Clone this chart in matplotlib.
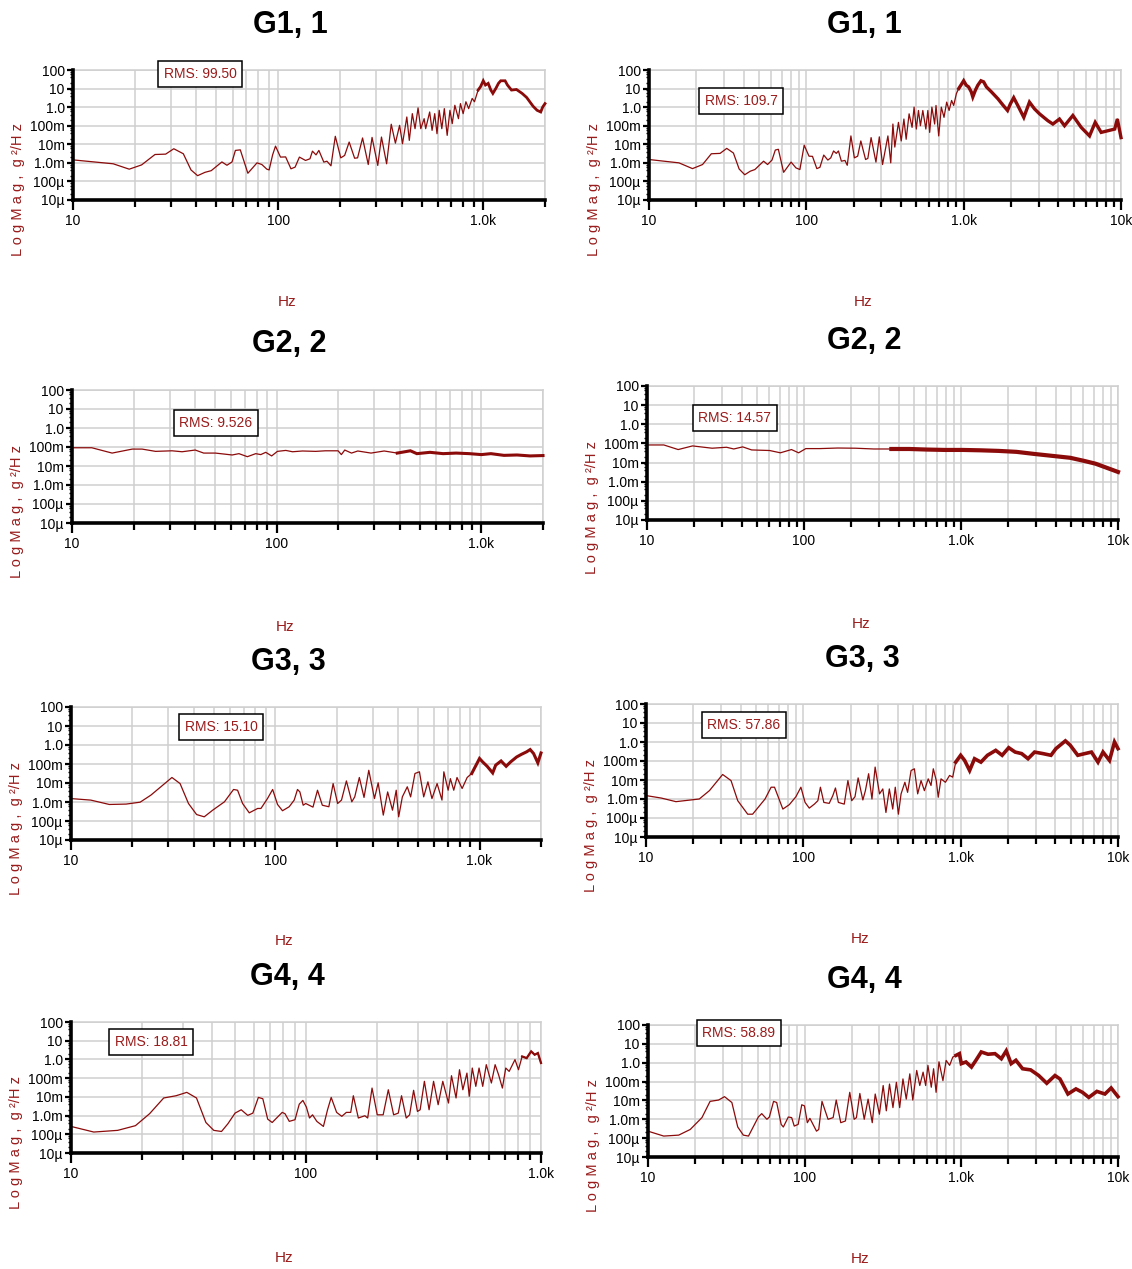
import numpy as np
import matplotlib
matplotlib.use("Agg")
import matplotlib.pyplot as plt
from matplotlib.ticker import FixedLocator, FixedFormatter, LogLocator, NullFormatter

plt.rcParams['font.family'] = ['Liberation Sans Narrow', 'Liberation Sans', 'DejaVu Sans']

W, H = 1132, 1269
LINE = '#8b0a0a'
LABEL = '#9a1c1c'
GRID = '#cfcfcf'

# --- data: (Hz, log10 of g^2/Hz) ---
g1a = [(10, -2.84), (15.7, -3.05), (18.8, -3.34), (21.6, -3.11), (25.1, -2.55), (28.3, -2.53),
       (31.0, -2.24), (34.5, -2.51), (37.6, -3.38), (40.5, -3.69), (44.0, -3.51), (47.2, -3.42),
       (53.2, -2.95), (56.3, -3.13), (59.6, -2.95), (61.9, -2.33), (65.4, -2.30), (71.2, -3.56),
       (78.9, -3.0), (83.3, -3.09), (88.1, -3.34), (90.4, -3.38), (94.0, -2.57), (97.1, -2.10),
       (102.7, -2.69), (108.8, -2.68), (115.5, -3.32), (121, -3.23), (127, -2.69), (136, -2.87),
       (143, -2.78), (147, -2.37), (153, -2.57), (158, -2.33), (167, -2.96), (173, -2.91),
       (181, -3.16), (190, -1.57), (202, -2.73), (211, -2.60), (222, -1.88), (236, -2.75),
       (244, -2.73), (258, -1.66), (275, -3.09), (287, -1.63), (306, -3.14), (319, -1.61),
       (338, -3.05), (356, -0.92), (373, -1.94), (391, -0.98), (404, -1.97), (424, -0.53),
       (436, -1.79), (451, -0.35), (465, -1.16), (481, -0.04), (496, -1.16), (515, -0.62),
       (524, -1.16), (548, -0.26), (563, -1.25), (580, -0.35), (595, -1.43), (610, -0.17),
       (628, -1.16), (646, -0.08), (667, -1.52), (688, -0.17), (706, -0.89), (727, 0.10),
       (757, -0.62), (774, 0.19), (798, -0.35), (823, 0.29), (849, -0.08), (883, 0.47),
       (906, 0.29), (944, 0.92), (970, 1.10), (1000, 1.42), (1025, 1.19), (1057, 1.28),
       (1089, 0.92), (1114, 0.74), (1152, 1.01), (1186, 1.28), (1217, 1.42), (1278, 1.42),
       (1312, 1.19), (1373, 0.92), (1452, 0.95), (1547, 0.74), (1628, 0.52), (1749, 0.05),
       (1830, -0.17), (1906, -0.26), (1950, 0.01), (2000, 0.19)]

g1b = [(10, -2.82), (15.5, -3.0), (18.9, -3.31), (21.9, -3.09), (24.9, -2.51), (28.3, -2.49),
       (31.2, -2.22), (34.4, -2.47), (37.4, -3.33), (40.6, -3.64), (44.0, -3.45), (47.1, -3.36),
       (53.5, -2.91), (56.7, -3.09), (60.5, -2.85), (63.5, -2.31), (66.4, -2.27), (71.7, -3.51),
       (80.0, -2.96), (85.9, -3.27), (91.0, -3.36), (96.9, -2.05), (104, -2.64), (109.4, -2.65),
       (116.6, -3.31), (122, -3.24), (129, -2.58), (137, -2.85), (143, -2.73), (149, -2.36),
       (155, -2.49), (160, -2.36), (167, -2.91), (176, -2.87), (182, -3.13), (192, -1.55),
       (202, -2.73), (212, -2.64), (222, -1.82), (238, -2.82), (246, -2.76), (258, -1.64),
       (277, -2.96), (291, -1.60), (305, -3.09), (330, -1.55), (344, -3.0), (355, -0.91),
       (365, -2.15), (385, -0.82), (401, -1.82), (417, -0.64), (431, -1.73), (450, -0.36),
       (470, -1.09), (484, 0.0), (500, -1.18), (516, -0.18), (531, -1.0), (550, -0.18),
       (575, -1.18), (592, -0.18), (608, -1.36), (628, 0.0), (654, -0.91), (667, 0.09),
       (694, -1.55), (721, 0.0), (750, -0.55), (780, 0.27), (808, -0.18), (838, 0.36),
       (864, 0.09), (899, 0.73), (930, 1.0), (960, 1.18), (1000, 1.42), (1038, 1.18),
       (1075, 1.09), (1118, 0.82), (1143, 0.55), (1187, 0.91), (1230, 1.18), (1288, 1.42),
       (1340, 1.36), (1395, 1.09), (1502, 0.82), (1651, 0.45), (1785, 0.09), (1900, -0.18),
       (1982, 0.18), (2080, 0.51), (2208, 0.09), (2411, -0.55), (2619, 0.27), (2818, -0.09),
       (3034, -0.36), (3428, -0.73), (3690, -0.91), (4064, -0.64), (4375, -1.0), (4943, -0.45),
       (5585, -1.09), (6310, -1.55), (6855, -0.82), (7482, -1.36), (8258, -1.27), (9120, -1.18),
       (9480, -0.64), (10000, -1.64)]

g2a = [(10, -1.04), (12.5, -1.04), (15.7, -1.32), (19.7, -1.11), (22.0, -1.11), (25.6, -1.23),
       (30.8, -1.20), (34.5, -1.25), (40.0, -1.16), (44, -1.32), (50.2, -1.32), (60.6, -1.42),
       (65.4, -1.35), (71.9, -1.51), (79, -1.35), (83.6, -1.40), (88.4, -1.28), (94.5, -1.47),
       (100.8, -1.23), (110.8, -1.18), (119.5, -1.25), (133.7, -1.21), (155, -1.23), (173, -1.20),
       (199.5, -1.20), (207, -1.40), (215, -1.16), (232, -1.32), (249, -1.21), (289, -1.32),
       (335, -1.21), (388, -1.32), (450, -1.20), (484, -1.35), (561, -1.28), (650, -1.35),
       (753, -1.32), (873, -1.35), (1000, -1.40), (1113, -1.35), (1289, -1.44), (1493, -1.42),
       (1730, -1.47), (2000, -1.45)]

g2b = [(10, -1.08), (12.8, -1.08), (15.8, -1.32), (19.5, -1.13), (26.0, -1.25), (32.1, -1.20),
       (35.7, -1.29), (40.7, -1.18), (46.4, -1.34), (60.4, -1.37), (70.7, -1.49), (83.2, -1.32),
       (92.4, -1.49), (102.7, -1.27), (126, -1.27), (164, -1.24), (213, -1.25), (278, -1.29),
       (360, -1.29), (469, -1.29), (607, -1.32), (790, -1.34), (1026, -1.34), (1335, -1.36),
       (1735, -1.39), (2256, -1.44), (2934, -1.55), (3815, -1.65), (4960, -1.75), (6140, -1.92),
       (7200, -2.06), (8460, -2.27), (10000, -2.49)]

g3a = [(10, -2.82), (12.5, -2.90), (15.4, -3.13), (18.6, -3.11), (21.8, -3.01), (24.6, -2.64),
       (28.1, -2.12), (31.2, -1.71), (34.2, -2.03), (37.6, -3.08), (41.2, -3.66), (44.9, -3.78),
       (49.4, -3.43), (56.4, -2.99), (59.6, -2.64), (62.5, -2.34), (65.4, -2.38), (69.2, -3.08),
       (74.6, -3.57), (82.0, -3.34), (85.1, -3.34), (91.6, -2.82), (97.1, -2.34), (102.6, -3.13),
       (108.5, -3.46), (117, -3.25), (123.8, -2.90), (128.5, -2.34), (132, -2.47), (137, -3.17),
       (141, -3.08), (153, -3.27), (161, -2.38), (170, -3.17), (183, -3.25), (192, -2.03),
       (202, -3.08), (211, -2.90), (223, -1.89), (237, -2.99), (245, -2.73), (258, -1.71),
       (272, -2.76), (287, -1.33), (306, -2.82), (319, -1.99), (338, -3.69), (355, -2.47),
       (375, -3.43), (391, -2.38), (402, -3.78), (419, -2.73), (443, -2.20), (460, -2.73),
       (483, -1.50), (508, -1.41), (533, -2.73), (559, -1.94), (585, -2.82), (620, -2.03),
       (655, -2.90), (669, -1.41), (702, -2.38), (720, -1.77), (748, -2.38), (776, -1.71),
       (822, -2.29), (870, -1.71), (916, -1.50), (962, -1.06), (1000, -0.71), (1036, -0.89),
       (1090, -1.12), (1160, -1.47), (1200, -1.06), (1275, -0.84), (1350, -1.12), (1420, -0.89),
       (1520, -0.63), (1605, -0.49), (1700, -0.36), (1770, -0.24), (1840, -0.45), (1930, -0.94),
       (2000, -0.42)]

g3b = [(10, -2.82), (12.5, -2.95), (15.5, -3.14), (21.8, -3.0), (25.3, -2.56), (30.7, -1.71),
       (34.7, -2.03), (38.3, -3.09), (44.3, -3.80), (47.6, -3.80), (57.1, -3.0), (62.4, -2.38),
       (65.6, -2.38), (74.1, -3.53), (81.4, -3.30), (89.7, -2.88), (96.5, -2.38), (102.6, -3.18),
       (109.1, -3.48), (117.5, -3.27), (123.7, -3.09), (128.4, -2.38), (135, -3.18), (146, -3.23),
       (154, -2.82), (160, -2.42), (167, -3.18), (182, -3.27), (192, -2.03), (203, -3.09),
       (213, -2.88), (223, -1.89), (239, -3.05), (248, -2.56), (260, -1.67), (273, -3.0),
       (286, -1.32), (305, -2.73), (320, -2.47), (335, -3.71), (352, -2.47), (370, -3.53),
       (384, -2.38), (402, -3.80), (418, -2.73), (442, -2.12), (460, -2.65), (484, -1.50),
       (508, -1.41), (533, -2.73), (560, -2.03), (588, -2.56), (622, -1.94), (648, -2.29),
       (670, -1.41), (700, -2.03), (720, -2.91), (750, -1.94), (800, -2.12), (850, -1.76),
       (890, -1.85), (930, -1.06), (1000, -0.70), (1060, -0.97), (1140, -1.50), (1225, -0.88),
       (1345, -1.06), (1480, -0.70), (1670, -0.44), (1835, -0.70), (2020, -0.30), (2220, -0.53),
       (2440, -0.61), (2680, -0.88), (2950, -0.53), (3330, -0.61), (3750, -0.70), (4030, -0.35),
       (4630, 0.06), (4970, -0.17), (5550, -0.70), (6160, -0.61), (6780, -0.53), (7460, -1.06),
       (8030, -0.53), (8830, -0.97), (9500, 0.0), (10000, -0.35)]

g4a = [(10, -3.58), (12.5, -3.88), (15.8, -3.79), (18.8, -3.54), (21.6, -2.90), (24.8, -2.06),
       (28.0, -1.94), (31.1, -1.76), (34.2, -2.06), (37.5, -3.37), (40.5, -3.79), (43.7, -3.85),
       (46.5, -3.44), (49.9, -2.87), (53.0, -2.69), (56.5, -2.99), (59.4, -2.87), (62.7, -2.03),
       (65.5, -2.10), (68.7, -3.19), (71.8, -3.37), (79.2, -2.83), (81.4, -2.90), (84.9, -3.31),
       (89.8, -3.22), (93.6, -2.39), (97, -2.19), (100.4, -2.55), (103.5, -3.13), (106.6, -2.96),
       (111.2, -3.31), (118.6, -3.58), (123.5, -2.69), (128, -2.03), (135, -2.83), (142, -3.04),
       (148.5, -2.83), (155, -2.83), (159, -1.94), (167, -3.13), (178, -3.01), (183, -3.13),
       (191, -1.53), (201, -2.96), (213, -2.96), (224, -1.62), (236, -2.96), (247, -2.87),
       (255, -1.94), (267, -3.13), (276, -2.96), (287, -1.65), (298, -2.78), (306, -2.69),
       (319, -1.17), (334, -2.69), (349, -1.17), (365, -2.42), (382, -1.17), (404, -2.33),
       (416, -0.87), (435, -2.06), (450, -0.55), (465, -1.62), (484, -0.73), (495, -1.97),
       (510, -0.46), (528, -1.44), (545, -0.46), (565, -1.44), (585, -0.28), (615, -1.26),
       (638, -0.28), (660, -0.82), (685, -1.53), (708, -0.46), (732, -0.64), (775, -0.01),
       (802, -0.55), (831, 0.16), (869, 0.07), (908, 0.43), (940, 0.25), (970, 0.34),
       (1000, -0.19)]

g4b = [(10, -3.63), (12.6, -3.89), (15.7, -3.84), (18.6, -3.54), (22.1, -2.91), (24.9, -2.05),
       (28.2, -1.98), (30.8, -1.80), (34.3, -2.11), (37.4, -3.41), (40.6, -3.84), (43.8, -3.89),
       (50.6, -2.88), (53.2, -2.70), (57.4, -3.0), (59.5, -2.88), (63.3, -2.05), (66.3, -2.11),
       (70.8, -3.27), (73.1, -3.41), (78.6, -2.88), (82.6, -2.91), (85.8, -3.36), (90.9, -3.27),
       (95.8, -2.23), (99.7, -2.29), (104, -3.18), (108, -2.95), (119, -3.63), (123, -3.54),
       (129, -2.05), (141, -3.0), (152, -2.91), (159, -1.98), (170, -3.18), (182, -3.09),
       (194, -1.57), (207, -3.0), (214, -2.91), (225, -1.63), (240, -3.0), (254, -1.93),
       (270, -3.18), (282, -1.66), (300, -2.73), (317, -1.21), (332, -2.55), (348, -1.13),
       (366, -2.38), (385, -1.04), (404, -2.38), (424, -0.86), (445, -1.93), (469, -0.59),
       (490, -1.98), (519, -0.41), (543, -1.21), (570, -0.50), (592, -1.21), (612, -0.14),
       (643, -1.30), (665, -0.32), (690, -1.57), (720, 0.05), (763, -0.95), (800, 0.12),
       (842, -0.14), (882, 0.30), (926, 0.39), (972, 0.48), (1000, -0.05), (1070, 0.04),
       (1160, -0.23), (1240, 0.13), (1340, 0.57), (1480, 0.45), (1640, 0.48), (1800, 0.21),
       (1935, 0.63), (2080, -0.05), (2230, 0.13), (2460, -0.32), (2770, -0.38), (3120, -0.68),
       (3510, -1.09), (3960, -0.68), (4260, -0.86), (4790, -1.66), (5390, -1.39), (5930, -1.57),
       (6510, -1.84), (7330, -1.52), (8250, -1.66), (9040, -1.34), (10000, -1.80)]

titles = ['G1, 1', 'G1, 1', 'G2, 2', 'G2, 2', 'G3, 3', 'G3, 3', 'G4, 4', 'G4, 4']
rms_text = ['RMS: 99.50', 'RMS: 109.7', 'RMS: 9.526', 'RMS: 14.57',
            'RMS: 15.10', 'RMS: 57.86', 'RMS: 18.81', 'RMS: 58.89']
series = [g1a, g1b, g2a, g2b, g3a, g3b, g4a, g4b]
x_max = [2000, 10000, 2000, 10000, 2000, 10000, 1000, 10000]

# where the trace turns into a dense noisy band, and how wide that band looks
dense_from = [950, 950, 450, 450, 950, 950, 850, 950]
dense_lw = [2.0, 2.4, 2.2, 3.0, 2.2, 2.6, 1.6, 2.6]

y_ticks = [1e2, 1e1, 1e0, 1e-1, 1e-2, 1e-3, 1e-4, 1e-5]
y_tick_labels = ['100', '10', '1.0', '100m', '10m', '1.0m', '100\u00b5', '10\u00b5']
x_tick_names = {10: '10', 100: '100', 1000: '1.0k', 10000: '10k'}

# --- layout in pixels: axes box, title, Hz label, RMS box centre ---
axes_px = [(73, 545, 70, 200), (649, 1121, 70, 200),
           (72, 543, 390, 523), (647, 1118, 386, 520),
           (71, 541, 707, 840), (646, 1118, 704, 837),
           (71, 541, 1022, 1153), (648, 1118, 1025, 1157)]
title_px = [(290, 25), (864, 25), (289, 344), (864, 341),
            (288, 662), (862, 659), (287, 977), (864, 980)]
hz_px = [(287, 302), (863, 302), (285, 627), (861, 624),
         (284, 941), (860, 939), (284, 1258), (860, 1259)]
rms_px = [(200, 74), (741, 101), (216, 423), (735, 418),
          (221, 727), (744, 725), (151, 1042), (739, 1033)]

fig = plt.figure(figsize=(W / 100, H / 100), dpi=100)


def fx(x):
    return x / W


def fy(y):
    return 1 - y / H


for i, pts in enumerate(series):
    x0, x1, yt, yb = axes_px[i]
    ax = fig.add_axes([fx(x0), fy(yb), (x1 - x0) / W, (yb - yt) / H])
    ax.set_xscale('log')
    ax.set_yscale('log')

    f = np.array([p[0] for p in pts], float)
    v = 10.0 ** np.array([p[1] for p in pts])
    ax.plot(f, v, color=LINE, lw=0.9, zorder=3, clip_on=False)
    k = max(np.searchsorted(f, dense_from[i]) - 1, 0)
    ax.plot(f[k:], v[k:], color=LINE, lw=dense_lw[i], zorder=3, clip_on=False,
            solid_joinstyle='miter')

    ax.set_xlim(10, x_max[i])
    ax.set_ylim(1e-5, 100)

    majors = [t for t in x_tick_names if t <= x_max[i]]
    ax.xaxis.set_major_locator(FixedLocator(majors))
    ax.xaxis.set_major_formatter(FixedFormatter([x_tick_names[t] for t in majors]))
    ax.xaxis.set_minor_locator(LogLocator(base=10, subs=np.arange(2, 10), numticks=100))
    ax.xaxis.set_minor_formatter(NullFormatter())
    ax.yaxis.set_major_locator(FixedLocator(y_ticks))
    ax.yaxis.set_major_formatter(FixedFormatter(y_tick_labels))
    ax.yaxis.set_minor_locator(LogLocator(base=10, subs=(2, 4, 6, 8), numticks=100))
    ax.yaxis.set_minor_formatter(NullFormatter())

    ax.set_axisbelow(True)
    ax.grid(True, which='both', axis='x', color=GRID, lw=1.1)
    ax.grid(True, which='major', axis='y', color=GRID, lw=1.1)
    for s in ('top', 'right'):
        ax.spines[s].set_color(GRID)
        ax.spines[s].set_linewidth(1.1)
    for s in ('left', 'bottom'):
        ax.spines[s].set_color('black')
        ax.spines[s].set_linewidth(2.6)
        ax.spines[s].set_zorder(4)

    ax.tick_params(axis='x', which='major', length=7, width=1.6, pad=3, labelsize=10)
    ax.tick_params(axis='x', which='minor', length=5, width=1.6)
    ax.tick_params(axis='y', which='major', length=4, width=1.6, pad=2, labelsize=10)
    ax.tick_params(axis='y', which='minor', length=2.5, width=1.0)

    tx, ty = title_px[i]
    fig.text(fx(tx), fy(ty), titles[i], fontsize=22, fontweight='bold',
             ha='center', va='center')
    hx, hy = hz_px[i]
    fig.text(fx(hx), fy(hy), 'Hz', fontsize=11, color=LABEL, ha='center', va='center')
    rx, ry = rms_px[i]
    fig.text(fx(rx), fy(ry), rms_text[i], fontsize=10, color=LABEL, ha='center', va='center',
             bbox=dict(boxstyle='square,pad=0.4', fc='white', ec='black', lw=1.1))
    fig.text(fx(x0 - 55), fy((yt + yb) / 2 + 55), 'L o g M a g ,  g \u00b2/H z',
             rotation=90, fontsize=10.5, color=LABEL, ha='center', va='center',
             family=['Liberation Sans', 'DejaVu Sans'])

fig.savefig('out.png', dpi=100)
